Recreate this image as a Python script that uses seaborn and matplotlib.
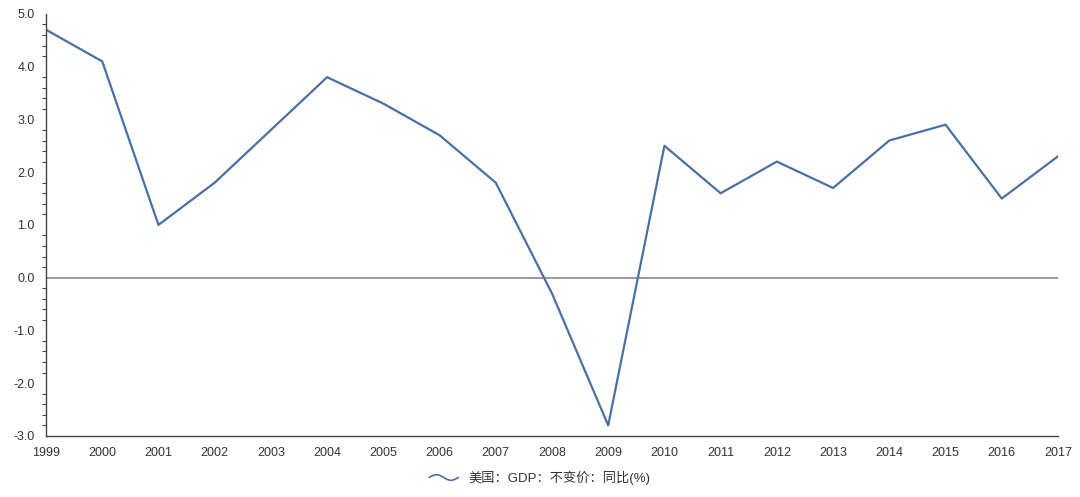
import matplotlib.pyplot as plt
import matplotlib.ticker as mticker
from matplotlib.legend_handler import HandlerBase
from matplotlib.lines import Line2D
import numpy as np
import pandas as pd
import seaborn as sns

years = list(range(1999, 2018))
gdp_yoy = [4.7, 4.1, 1.0, 1.8, 2.8, 3.8, 3.3, 2.7, 1.8, -0.3,
           -2.8, 2.5, 1.6, 2.2, 1.7, 2.6, 2.9, 1.5, 2.3]
series_name = "美国：GDP：不变价：同比(%)"

df = pd.DataFrame({"year": years, "value": gdp_yoy})


class WaveHandler(HandlerBase):
    # legend icon drawn as a small wave, like the original chart
    def create_artists(self, legend, orig_handle, xdescent, ydescent,
                       width, height, fontsize, trans):
        t = np.linspace(0, 1, 40)
        xs = -xdescent + t * width
        ys = -ydescent + height / 2 + np.sin(t * 2 * np.pi) * height * 0.3
        ln = Line2D(xs, ys, color=orig_handle.get_color(), linewidth=1.2,
                    transform=trans)
        return [ln]


sns.set_style("white")
plt.rcParams['font.family'] = ['Liberation Sans', 'Noto Sans CJK SC', 'DejaVu Sans']

fig = plt.figure(figsize=(10.8, 4.97), dpi=100)
ax = fig.add_axes([0.0426, 0.123, 0.937, 0.849])

line_color = "#4a70a3"
sns.lineplot(data=df, x="year", y="value", ax=ax, color=line_color,
             linewidth=1.6, label=series_name, legend=False)
ax.axhline(0, color="#888888", linewidth=1.2, zorder=1)

ax.set_xlim(1999, 2017)
ax.set_ylim(-3, 5)
ax.set_xticks(years)
ax.yaxis.set_major_locator(mticker.MultipleLocator(1))
ax.yaxis.set_minor_locator(mticker.MultipleLocator(0.2))
ax.yaxis.set_major_formatter(mticker.FormatStrFormatter("%.1f"))
ax.set_xlabel("")
ax.set_ylabel("")

for s in ["top", "right"]:
    ax.spines[s].set_visible(False)
for s in ["left", "bottom"]:
    ax.spines[s].set_color("#444444")
    ax.spines[s].set_linewidth(1.0)

ax.tick_params(axis="both", which="major", direction="out", length=5,
               width=1, color="#444444", labelsize=9, labelcolor="#333333")
ax.tick_params(axis="y", which="minor", direction="out", length=3,
               width=0.8, color="#444444", left=True)
ax.tick_params(axis="x", pad=3)
ax.tick_params(axis="y", pad=3)

handles, labels = ax.get_legend_handles_labels()
fig.legend(handles, labels, loc="lower center", bbox_to_anchor=(0.5, 0.0),
           frameon=False, fontsize=9.5, handlelength=2.2, labelcolor="#333333",
           handler_map={Line2D: WaveHandler()})

fig.savefig("out.png", dpi=100)
